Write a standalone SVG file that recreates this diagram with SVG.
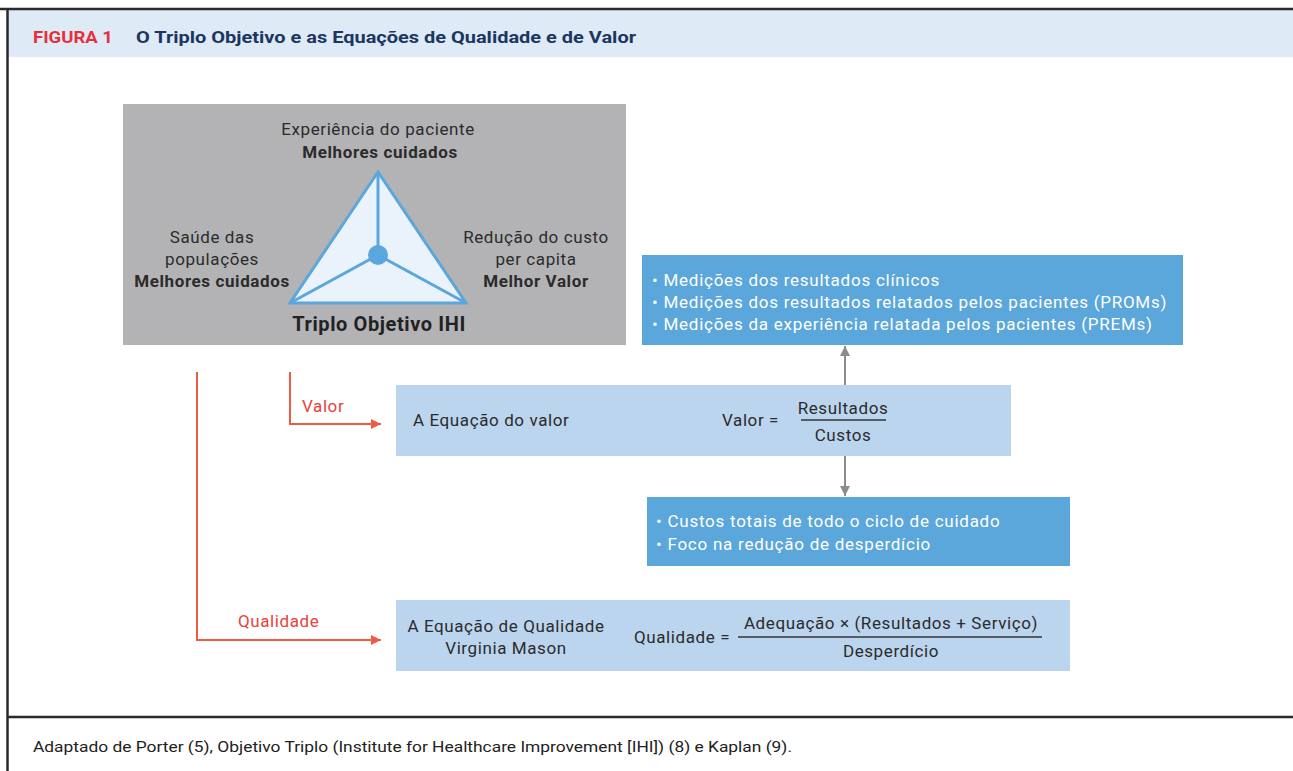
<svg xmlns="http://www.w3.org/2000/svg" width="1293" height="771" viewBox="0 0 1293 771">
<style>
text{font-family:Roboto,"Liberation Sans",sans-serif;}
.dk{fill:#2b2b2b;font-size:17px;letter-spacing:0.6px;}
.b{font-weight:bold;}
.wt{fill:#ffffff;font-size:17px;letter-spacing:0.75px;}
.rd{fill:#e8423a;font-size:17px;letter-spacing:0.6px;}
.red{stroke:#ef5a45;stroke-width:2;fill:none;}
.gry{stroke:#8c8c8c;stroke-width:2;fill:none;}
.frm{stroke:#2a2a2a;stroke-width:2.5;fill:none;}
</style>
<defs>
<marker id="ar" viewBox="0 0 10 10" refX="10" refY="5" markerWidth="7" markerHeight="5" markerUnits="strokeWidth" orient="auto"><path d="M0,0L10,5L0,10z" fill="#ef5a45"/></marker>
<marker id="ag" viewBox="0 0 10 10" refX="10" refY="5" markerWidth="6" markerHeight="5" markerUnits="strokeWidth" orient="auto"><path d="M0,0L10,5L0,10z" fill="#8c8c8c"/></marker>
</defs>
<rect width="1293" height="771" fill="#ffffff"/>
<g id="frame">
<rect x="8" y="10" width="1285" height="47" fill="#deeaf6"/>
<line x1="0" y1="9" x2="1293" y2="9" class="frm"/>
<line x1="7.5" y1="8" x2="7.5" y2="771" class="frm"/>
<line x1="7" y1="717" x2="1293" y2="717" class="frm"/>
<text x="33" y="43" style="font-size:16.5px;font-weight:bold;fill:#e8303a;" textLength="80" lengthAdjust="spacingAndGlyphs">FIGURA 1</text>
<text x="136" y="43" style="font-size:16.5px;font-weight:bold;fill:#1c3662;" textLength="500" lengthAdjust="spacingAndGlyphs">O Triplo Objetivo e as Equações de Qualidade e de Valor</text>
<text x="33" y="752" style="font-size:14.5px;fill:#222;" textLength="759" lengthAdjust="spacingAndGlyphs">Adaptado de Porter (5), Objetivo Triplo (Institute for Healthcare Improvement [IHI]) (8) e Kaplan (9).</text>
</g>
<g id="triplo">
<rect x="123" y="104" width="503" height="241" fill="#b3b3b6"/>
<polygon points="378,172 290,303 466,303" fill="#eaf3fb" stroke="#5ba6dc" stroke-width="3" stroke-linejoin="miter"/>
<line x1="378" y1="172" x2="378" y2="255" stroke="#5ba6dc" stroke-width="3"/>
<line x1="290" y1="303" x2="378" y2="255" stroke="#5ba6dc" stroke-width="3"/>
<line x1="466" y1="303" x2="378" y2="255" stroke="#5ba6dc" stroke-width="3"/>
<circle cx="378" cy="255" r="10" fill="#5ba6dc"/>
<text x="378" y="135" text-anchor="middle" class="dk">Experiência do paciente</text>
<text x="380" y="158" text-anchor="middle" class="dk b">Melhores cuidados</text>
<text x="212" y="243" text-anchor="middle" class="dk">Saúde das</text>
<text x="212" y="265" text-anchor="middle" class="dk">populações</text>
<text x="212" y="287" text-anchor="middle" class="dk b">Melhores cuidados</text>
<text x="536" y="243" text-anchor="middle" class="dk">Redução do custo</text>
<text x="536" y="265" text-anchor="middle" class="dk">per capita</text>
<text x="536" y="287" text-anchor="middle" class="dk b">Melhor Valor</text>
<text x="379" y="331" text-anchor="middle" style="font-size:20px;font-weight:bold;fill:#222;letter-spacing:0.6px;">Triplo Objetivo IHI</text>
</g>
<g id="medicoes">
<rect x="642" y="255" width="541" height="90" fill="#5ba6da"/>
<text x="652" y="286" class="wt">• Medições dos resultados clínicos</text>
<text x="652" y="308" class="wt">• Medições dos resultados relatados pelos pacientes (PROMs)</text>
<text x="652" y="330" class="wt">• Medições da experiência relatada pelos pacientes (PREMs)</text>
</g>
<g id="valor">
<rect x="396" y="385" width="615" height="71" fill="#bcd5ee"/>
<text x="413" y="426" class="dk">A Equação do valor</text>
<text x="722" y="426" class="dk">Valor =</text>
<text x="843" y="414" text-anchor="middle" class="dk">Resultados</text>
<line x1="801" y1="420" x2="886" y2="420" stroke="#333" stroke-width="1.5"/>
<text x="843" y="441" text-anchor="middle" class="dk">Custos</text>
</g>
<g id="custos">
<rect x="647" y="497" width="423" height="69" fill="#5ba6da"/>
<text x="656" y="527" class="wt">• Custos totais de todo o ciclo de cuidado</text>
<text x="656" y="550" class="wt">• Foco na redução de desperdício</text>
</g>
<g id="qualidade">
<rect x="396" y="600" width="674" height="71" fill="#bcd5ee"/>
<text x="506" y="632" text-anchor="middle" class="dk">A Equação de Qualidade</text>
<text x="506" y="654" text-anchor="middle" class="dk">Virginia Mason</text>
<text x="634" y="643" class="dk">Qualidade =</text>
<text x="891" y="629" text-anchor="middle" class="dk">Adequação × (Resultados + Serviço)</text>
<line x1="738" y1="637" x2="1042" y2="637" stroke="#333" stroke-width="1.5"/>
<text x="891" y="657" text-anchor="middle" class="dk">Desperdício</text>
</g>
<g id="connectors">
<path d="M290,372V424H381" class="red" marker-end="url(#ar)"/>
<path d="M197,372V640H381" class="red" marker-end="url(#ar)"/>
<text x="302" y="412" class="rd">Valor</text>
<text x="238" y="627" class="rd">Qualidade</text>
<line x1="845" y1="385" x2="845" y2="346" class="gry" marker-end="url(#ag)"/>
<line x1="845" y1="456" x2="845" y2="496" class="gry" marker-end="url(#ag)"/>
</g>
</svg>
